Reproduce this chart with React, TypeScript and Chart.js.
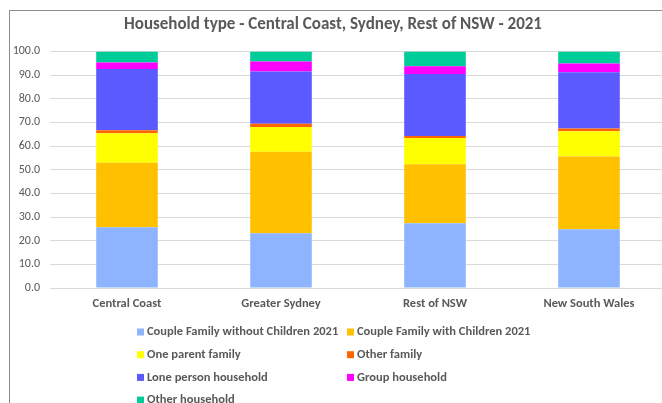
import React, { useEffect, useRef } from "react";
import { Chart, registerables } from "chart.js";

Chart.register(...registerables);

const categories = ["Central Coast", "Greater Sydney", "Rest of NSW", "New South Wales"];
const seriesNames = [
  "Couple Family without Children 2021",
  "Couple Family with Children 2021",
  "One parent family",
  "Other family",
  "Lone person household",
  "Group household",
  "Other household",
];
const coupleNoChildren = [25.7, 23.1, 27.4, 24.8];
const coupleWithChildren = [27.2, 34.5, 24.9, 30.8];
const oneParent = [12.5, 10.5, 11.1, 10.7];
const otherFamily = [1.3, 1.3, 0.8, 1.1];
const lonePerson = [25.9, 22.1, 26.3, 23.8];
const groupHousehold = [2.7, 4.2, 3.2, 3.7];
const otherHousehold = [4.7, 4.3, 6.3, 5.1];
const seriesColors = ["#8EB4FF", "#FFC000", "#FFFF00", "#FF6600", "#5A5AFF", "#FF00FF", "#00CC99"];
const yTicks = [0, 10, 20, 30, 40, 50, 60, 70, 80, 90, 100];

const FONT = "Carlito, Calibri, Lato, 'Open Sans', sans-serif";
const TEXT = "#595959";

const legendPlugin = {
  id: "gridLegend",
  afterDraw(chart: any) {
    const ctx = chart.ctx;
    const items = chart.data.datasets;
    const base = chart.chartArea.bottom;
    const colX = [137, 347];
    ctx.save();
    ctx.font = `bold 12.5px ${FONT}`;
    ctx.textBaseline = "middle";
    ctx.textAlign = "left";
    items.forEach((ds: any, i: number) => {
      const col = i % 2;
      const row = Math.floor(i / 2);
      const y = base + 44 + row * 22.7;
      const x = colX[col];
      ctx.fillStyle = ds.backgroundColor;
      ctx.fillRect(x, y - 3.5, 7, 7);
      ctx.fillStyle = TEXT;
      ctx.fillText(ds.label, x + 10, y);
    });
    ctx.restore();
  },
};

export default function App() {
  const ref = useRef<HTMLCanvasElement | null>(null);
  useEffect(() => {
    if (!ref.current) return;
    const values = [
      coupleNoChildren,
      coupleWithChildren,
      oneParent,
      otherFamily,
      lonePerson,
      groupHousehold,
      otherHousehold,
    ];
    const chart = new Chart(ref.current, {
      type: "bar",
      data: {
        labels: categories,
        datasets: seriesNames.map((name, i) => ({
          label: name,
          data: values[i],
          backgroundColor: seriesColors[i],
          borderWidth: 0,
          categoryPercentage: 1,
          barPercentage: 0.4,
        })),
      },
      options: {
        responsive: false,
        animation: false,
        layout: { padding: { left: 0, right: 14, top: 0, bottom: 84 } },
        plugins: {
          legend: { display: false },
          tooltip: { enabled: false },
          title: {
            display: true,
            text: "Household type - Central Coast, Sydney, Rest of NSW - 2021",
            color: TEXT,
            font: { family: FONT, size: 17, weight: "bold" },
            padding: { top: 15, bottom: 16 },
          },
        },
        scales: {
          x: {
            stacked: true,
            grid: { display: false, drawTicks: false },
            border: { display: false },
            ticks: {
              color: TEXT,
              font: { family: FONT, size: 12.5, weight: "bold" },
              padding: 8,
              maxRotation: 0,
            },
          },
          y: {
            stacked: true,
            min: 0,
            max: 100,
            afterFit(scale: any) {
              scale.width = 50;
            },
            afterBuildTicks(scale: any) {
              scale.ticks = yTicks.map((v) => ({ value: v }));
            },
            grid: { color: "#D9D9D9", drawTicks: false, lineWidth: 1 },
            border: { display: false },
            ticks: {
              color: TEXT,
              font: { family: FONT, size: 12 },
              padding: 10,
              callback: (v: any) => Number(v).toFixed(1),
            },
          },
        },
      },
      plugins: [legendPlugin],
    });
    return () => chart.destroy();
  }, []);

  return (
    <div
      style={{
        position: "fixed",
        left: 0,
        top: 0,
        width: 662,
        height: 403,
        overflow: "hidden",
        background: "#fff",
      }}
    >
      <div
        style={{
          position: "absolute",
          left: 9,
          top: 10,
          width: 720,
          height: 520,
          border: "1px solid #8C8C8C",
        }}
      />
      <canvas
        ref={ref}
        width={680}
        height={403}
        style={{ position: "absolute", left: 0, top: 0, width: 680, height: 403 }}
      />
    </div>
  );
}
